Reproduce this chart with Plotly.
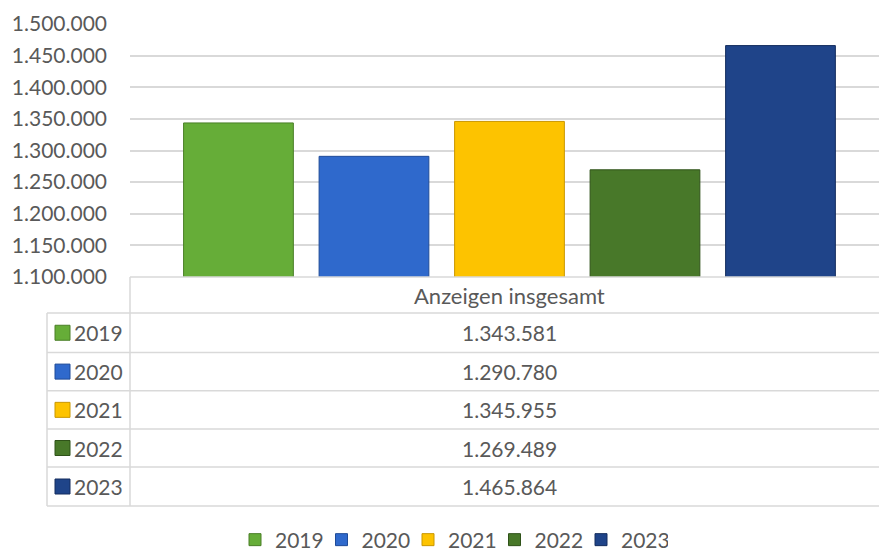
import plotly.graph_objects as go

# ---- data ----
category = "Anzeigen insgesamt"
years = ["2019", "2020", "2021", "2022", "2023"]
values = [1343581, 1290780, 1345955, 1269489, 1465864]
colors = ["#66ad38", "#2f69cc", "#fdc300", "#487829", "#1f4489"]
edge_colors = ["#4a7f27", "#1f4b98", "#c99700", "#2f5219", "#142d5e"]
y_ticks = [1100000, 1150000, 1200000, 1250000, 1300000, 1350000, 1400000, 1450000, 1500000]

W, H = 879, 551
PL, PR, PT, PB = 130, 879, 24, 277  # plot area in pixels
FONT = "Lato"
TXT = "#595959"
GRID = "#d9d9d9"


def px(x):
    return (x - PL) / (PR - PL)


def py(y):
    return (PB - y) / (PB - PT)


def fmt(v):
    return f"{v:,}".replace(",", ".")


fig = go.Figure()
for yr, v, c, ec in zip(years, values, colors, edge_colors):
    fig.add_trace(go.Bar(
        name=yr, x=[category], y=[v],
        marker=dict(color=c, line=dict(color=ec, width=1)),
    ))

shapes = []
annotations = []

# table geometry (pixels)
header_top, header_bot = 277, 313
row_lines = [313, 352.5, 390.7, 429, 467, 506]
left_x = 47
val_x = 509.5

line = dict(color=GRID, width=1.5)
shapes.append(dict(type="line", xref="paper", yref="paper", x0=px(PL), x1=px(PR), y0=py(header_top), y1=py(header_top), line=line))
for yl in row_lines:
    shapes.append(dict(type="line", xref="paper", yref="paper", x0=px(left_x), x1=px(PR), y0=py(yl), y1=py(yl), line=line))
shapes.append(dict(type="line", xref="paper", yref="paper", x0=px(PL), x1=px(PL), y0=py(header_top), y1=py(row_lines[-1]), line=line))
shapes.append(dict(type="line", xref="paper", yref="paper", x0=px(left_x), x1=px(left_x), y0=py(row_lines[0]), y1=py(row_lines[-1]), line=line))

num_font = dict(family=FONT, size=21, color=TXT)
hdr_font = dict(family=FONT, size=22, color=TXT)
annotations.append(dict(xref="paper", yref="paper", x=px(val_x), y=py((header_top + header_bot) / 2),
                        text=category, showarrow=False, font=hdr_font, xanchor="center", yanchor="middle"))
for i, (yr, v, c, ec) in enumerate(zip(years, values, colors, edge_colors)):
    yc = (row_lines[i] + row_lines[i + 1]) / 2
    annotations.append(dict(xref="paper", yref="paper", x=px(val_x), y=py(yc), text=fmt(v),
                            showarrow=False, font=num_font, xanchor="center", yanchor="middle"))
    annotations.append(dict(xref="paper", yref="paper", x=px(72), y=py(yc), text=yr,
                            showarrow=False, font=num_font, xanchor="left", yanchor="middle"))
    shapes.append(dict(type="rect", xref="paper", yref="paper", x0=px(55), x1=px(70),
                       y0=py(yc - 7.5), y1=py(yc + 7.5), fillcolor=c, line=dict(color=ec, width=1)))

fig.update_layout(
    width=W, height=H,
    margin=dict(l=PL, r=W - PR, t=PT, b=H - PB, pad=0, autoexpand=False),
    paper_bgcolor="white", plot_bgcolor="white",
    separators=",.",
    barmode="group", bargap=0.0, bargroupgap=0.19,
    font=dict(family=FONT, size=21, color=TXT),
    xaxis=dict(type="category", range=[-0.5601, 0.5454], showticklabels=False,
               showgrid=False, zeroline=False, showline=False, ticks=""),
    yaxis=dict(range=[1100000, 1500000], tickvals=y_ticks, tickformat=",d",
               showgrid=True, gridcolor=GRID, gridwidth=1.5, zeroline=False,
               showline=False, ticks="", ticklabelstandoff=22,
               tickfont=dict(family=FONT, size=21, color=TXT)),
    showlegend=True,
    legend=dict(orientation="h", x=px(235), xanchor="left", y=py(540), yanchor="middle",
                font=dict(family=FONT, size=21, color=TXT), entrywidth=41.5, entrywidthmode="pixels",
                itemwidth=30, traceorder="normal", bgcolor="rgba(0,0,0,0)"),
    shapes=shapes, annotations=annotations,
)

fig.write_html("out.html", config={"displayModeBar": False},
               post_script="document.body.style.margin='0';")
